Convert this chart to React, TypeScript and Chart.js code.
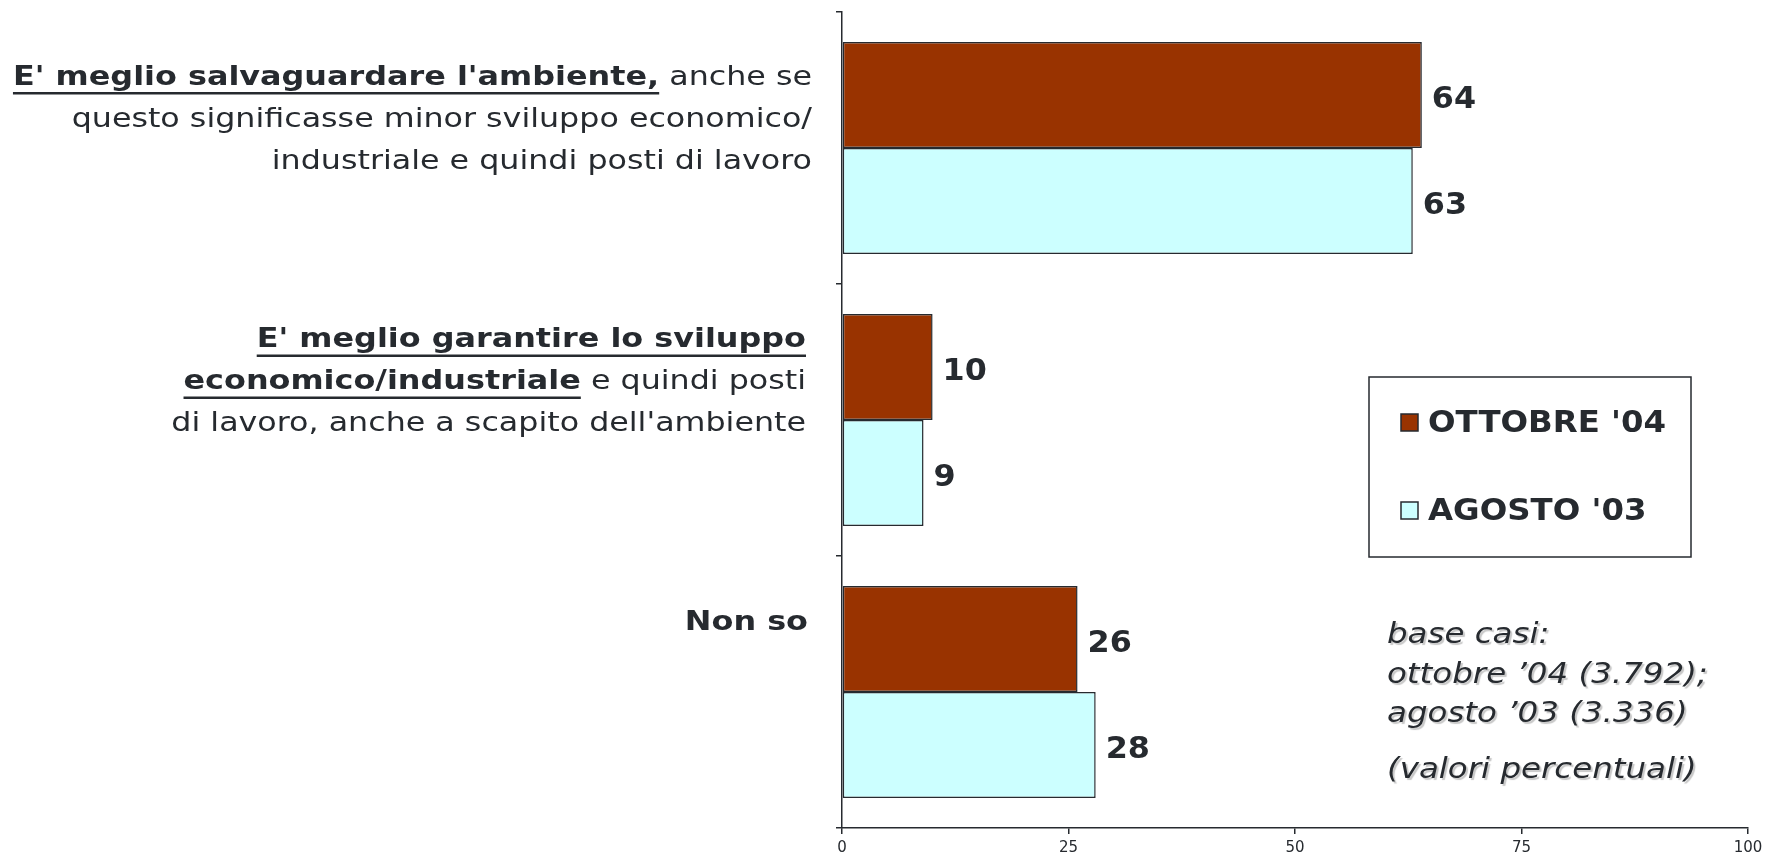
import React, { useEffect, useRef } from 'react';
import { Chart, registerables } from 'chart.js';
Chart.register(...registerables);

const categories = ['Salvaguardare ambiente', 'Garantire sviluppo', 'Non so'];
const seriesNames = ["OTTOBRE '04", "AGOSTO '03"];
const ottobre04 = [64, 10, 26];
const agosto03 = [63, 9, 28];
const xTickValues = [0, 25, 50, 75, 100];

type Seg = { t: string; b: boolean; u: boolean };
const categoryLabelLines: Seg[][][] = [
  [
    [{ t: "E' meglio salvaguardare l'ambiente,", b: true, u: true }, { t: ' anche se', b: false, u: false }],
    [{ t: 'questo significasse minor sviluppo economico/', b: false, u: false }],
    [{ t: 'industriale e quindi posti di lavoro', b: false, u: false }],
  ],
  [
    [{ t: "E' meglio garantire lo sviluppo", b: true, u: true }],
    [{ t: 'economico/industriale', b: true, u: true }, { t: ' e quindi posti', b: false, u: false }],
    [{ t: "di lavoro, anche a scapito dell'ambiente", b: false, u: false }],
  ],
  [[{ t: 'Non so', b: true, u: false }]],
];
const noteLines = ['base casi:', 'ottobre ’04 (3.792);', 'agosto ’03 (3.336)', '(valori percentuali)'];

const TEXT = '#262a2f';
const FONT = '"DejaVu Sans", Verdana, sans-serif';
const COLORS = ['#993300', '#ccffff'];

function drawStretched(ctx: any, t: string, x: number, y: number, sx: number) {
  ctx.save();
  ctx.translate(x, y);
  ctx.scale(sx, 1);
  ctx.fillText(t, 0, 0);
  ctx.restore();
}

const decorPlugin = {
  id: 'decor',
  afterDatasetsDraw(chart: any) {
    const ctx = chart.ctx;
    ctx.save();
    ctx.fillStyle = TEXT;
    ctx.font = `bold 30px ${FONT}`;
    ctx.textAlign = 'left';
    ctx.textBaseline = 'middle';
    chart.data.datasets.forEach((ds: any, di: number) => {
      const meta = chart.getDatasetMeta(di);
      meta.data.forEach((el: any, i: number) => {
        drawStretched(ctx, String(ds.data[i]), el.x + 10, el.y + 5, 1.06);
      });
    });
    ctx.restore();
  },
  afterDraw(chart: any) {
    const ctx = chart.ctx;
    const area = chart.chartArea;
    const y = chart.scales.y;
    ctx.save();
    // Category labels
    const size = 26;
    const lineH = 42;
    const offsets = [-70, -79.5, -68.5];
    const rightGaps = [30, 36, 34];
    ctx.textBaseline = 'middle';
    ctx.textAlign = 'left';
    categoryLabelLines.forEach((lines, ci) => {
      const cy = y.getPixelForValue(ci) + offsets[ci];
      const rightX = area.left - rightGaps[ci];
      lines.forEach((segs, li) => {
        const ly = cy + li * lineH;
        const scales = segs.map((s) => (s.b ? 1.225 : 1.22));
        const widths = segs.map((s, si) => {
          ctx.font = `${s.b ? 'bold ' : ''}${size}px ${FONT}`;
          return ctx.measureText(s.t).width * scales[si];
        });
        const total = widths.reduce((a, b) => a + b, 0);
        let x = rightX - total;
        segs.forEach((s, si) => {
          ctx.font = `${s.b ? 'bold ' : ''}${size}px ${FONT}`;
          ctx.fillStyle = TEXT;
          drawStretched(ctx, s.t, x, ly, scales[si]);
          if (s.u) {
            ctx.fillRect(x, ly + 14, widths[si], 2.5);
          }
          x += widths[si];
        });
      });
    });

    // Legend box
    const bx = 1369, by = 377, bw = 322, bh = 180;
    ctx.strokeStyle = TEXT;
    ctx.lineWidth = 1.5;
    ctx.strokeRect(bx, by, bw, bh);
    ctx.font = `bold 30px ${FONT}`;
    seriesNames.forEach((name, i) => {
      const cy = by + 46 + i * 88;
      ctx.fillStyle = COLORS[i];
      ctx.fillRect(bx + 32, cy - 9, 17, 17);
      ctx.strokeStyle = TEXT;
      ctx.lineWidth = 1.5;
      ctx.strokeRect(bx + 32, cy - 9, 17, 17);
      ctx.fillStyle = TEXT;
      ctx.textAlign = 'left';
      drawStretched(ctx, name, bx + 59, cy + 1, 1.08);
    });

    // Notes
    ctx.font = `italic 29px ${FONT}`;
    ctx.shadowColor = 'rgba(0,0,0,0.22)';
    ctx.shadowOffsetX = 2;
    ctx.shadowOffsetY = 2;
    ctx.shadowBlur = 1;
    ctx.fillStyle = TEXT;
    const ny = [635, 675, 714, 770];
    noteLines.forEach((l, i) => drawStretched(ctx, l, 1387, ny[i], 1.12));
    ctx.restore();
  },
};

export default function App() {
  const ref = useRef<HTMLCanvasElement>(null);
  useEffect(() => {
    document.body.style.margin = '0';
    const chart = new Chart(ref.current!, {
      type: 'bar',
      data: {
        labels: categories,
        datasets: [
          {
            label: seriesNames[0],
            data: ottobre04,
            backgroundColor: COLORS[0],
            borderColor: TEXT,
            borderWidth: 1.5,
            borderSkipped: false,
            categoryPercentage: 0.78,
            barPercentage: 1,
          },
          {
            label: seriesNames[1],
            data: agosto03,
            backgroundColor: COLORS[1],
            borderColor: TEXT,
            borderWidth: 1.5,
            borderSkipped: false,
            categoryPercentage: 0.78,
            barPercentage: 1,
          },
        ],
      },
      options: {
        indexAxis: 'y',
        responsive: false,
        animation: false,
        layout: { padding: { left: 836, top: 12, right: 28, bottom: 0 } },
        plugins: { legend: { display: false }, tooltip: { enabled: false } },
        scales: {
          x: {
            min: 0,
            max: 100,
            afterBuildTicks: (s: any) => {
              s.ticks = xTickValues.map((v) => ({ value: v }));
            },
            afterFit: (s: any) => {
              s.height = 30;
            },
            grid: { drawOnChartArea: false, drawTicks: true, tickLength: 6, color: TEXT, lineWidth: 1.5 },
            border: { color: TEXT, width: 1.5 },
            ticks: { color: TEXT, font: { family: FONT, size: 15 }, padding: 5 },
          },
          y: {
            grid: { drawOnChartArea: false, drawTicks: true, tickLength: 6, color: TEXT, lineWidth: 1.5, offset: true },
            border: { color: TEXT, width: 1.5 },
            ticks: { display: false },
          },
        },
      },
      plugins: [decorPlugin],
    });
    return () => chart.destroy();
  }, []);
  return <canvas ref={ref} width={1776} height={858} style={{ display: 'block' }} />;
}
